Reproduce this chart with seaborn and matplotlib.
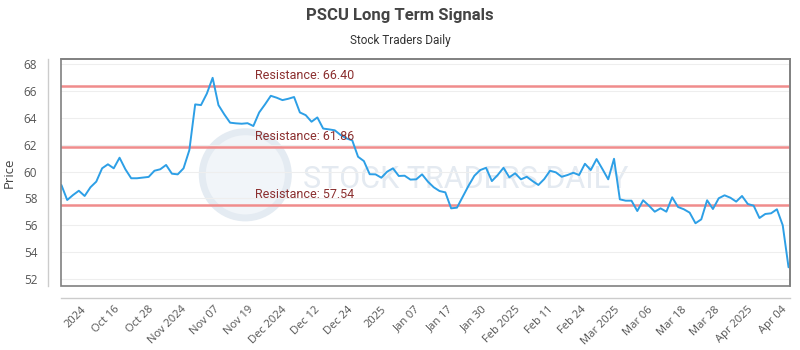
import numpy as np
import pandas as pd
import matplotlib
matplotlib.use("Agg")
import matplotlib.pyplot as plt
import seaborn as sns
from matplotlib.patches import Rectangle, Ellipse

title = "PSCU Long Term Signals"
subtitle = "Stock Traders Daily"

prices = [
    59.0, 57.88, 58.25, 58.57, 58.18, 58.83, 59.25, 60.24, 60.54, 60.24,
    61.03, 60.17, 59.5, 59.5, 59.55, 59.6, 60.06, 60.17, 60.49, 59.84,
    59.79, 60.24, 61.6, 65.0, 64.95, 65.8, 66.98, 64.95, 64.26, 63.64,
    63.59, 63.56, 63.6, 63.39, 64.4, 65.0, 65.64, 65.5, 65.32, 65.42,
    65.55, 64.4, 64.2, 63.71, 64.03, 63.2, 63.14, 63.07, 62.72, 62.47,
    62.32, 61.1, 60.78, 59.8, 59.79, 59.54, 59.99, 60.24, 59.67, 59.69,
    59.4, 59.42, 59.79, 59.25, 58.83, 58.55, 58.45, 57.26, 57.31, 58.13,
    58.95, 59.69, 60.11, 60.28, 59.29, 59.74, 60.28, 59.57, 59.87, 59.42,
    59.61, 59.29, 59.0, 59.44, 60.06, 59.94, 59.61, 59.74, 59.91, 59.74,
    60.58, 60.11, 60.93, 60.19, 59.42, 60.95, 57.93, 57.83, 57.83, 57.06,
    57.86, 57.46, 57.01, 57.26, 57.01, 58.08, 57.36, 57.19, 56.94, 56.15,
    56.44, 57.86, 57.21, 58.01, 58.23, 58.05, 57.76, 58.18, 57.58, 57.46,
    56.54, 56.84, 56.89, 57.19, 56.0, 52.87,
]

resistance_levels = [66.40, 61.86, 57.54]

tick_labels = ["2024", "Oct 16", "Oct 28", "Nov 2024", "Nov 07", "Nov 19",
               "Dec 2024", "Dec 12", "Dec 24", "2025", "Jan 07", "Jan 17",
               "Jan 30", "Feb 2025", "Feb 11", "Feb 24", "Mar 2025", "Mar 06",
               "Mar 18", "Mar 28", "Apr 2025", "Apr 04"]

yticks = [52, 54, 56, 58, 60, 62, 64, 66, 68]

df = pd.DataFrame({"idx": np.arange(len(prices)), "price": prices})

sns.set_style("white")
plt.rcParams["font.family"] = ["Open Sans", "DejaVu Sans"]

fig = plt.figure(figsize=(8, 3.5), dpi=100)
ax = fig.add_axes([0.076, 0.183, 0.9115, 0.648])

# frame and offset axis lines (set first: spine positioning resets ticks)
for s in ["top", "right"]:
    ax.spines[s].set_color("#808080")
    ax.spines[s].set_linewidth(1.2)
for s in ["left", "bottom"]:
    ax.spines[s].set_position(("outward", 9))
    ax.spines[s].set_color("#cccccc")
    ax.spines[s].set_linewidth(1.0)
ax.add_patch(Rectangle((0, 0), 1, 1, transform=ax.transAxes, fill=False,
                       edgecolor="#808080", linewidth=1.2, clip_on=False,
                       zorder=4))

# watermark
ax.add_patch(Ellipse((0.253, 0.49), 0.118, 0.38, transform=ax.transAxes,
                     facecolor="#f1f5f9", edgecolor="#e4ebf2", linewidth=5,
                     zorder=0))
ax.text(0.555, 0.47, "STOCK TRADERS DAILY", transform=ax.transAxes,
        ha="center", va="center", fontsize=22, color="#e4eaf1",
        family=["Roboto", "DejaVu Sans"], zorder=0)

for lvl in resistance_levels:
    ax.axhline(lvl, color="#f08c8c", linewidth=1.8, zorder=1)
    ax.text(33.2, lvl + 0.25, f"Resistance: {lvl:.2f}", color="#8b2f2f",
            fontsize=9, ha="left", va="bottom", zorder=3,
            family=["Roboto", "DejaVu Sans"])

sns.lineplot(data=df, x="idx", y="price", ax=ax, color="#2d9fe6",
             linewidth=1.4, zorder=2)

ax.set_xlim(-0.1, len(prices) - 1 + 0.25)
ax.set_ylim(51.48, 68.37)
ax.set_yticks(yticks)
ax.yaxis.grid(True, color="#eeeeee", linewidth=0.8)
ax.set_axisbelow(True)

tick_pos = np.linspace(3.4, 123.7, len(tick_labels))
ax.set_xticks(tick_pos)
ax.tick_params(axis="x", length=0, pad=4, labelsize=8, labelcolor="#555555")
ax.tick_params(axis="y", length=0, pad=8, labelsize=8.5, labelcolor="#555555")
ax.set_xticklabels(tick_labels, rotation=45, ha="right",
                   rotation_mode="anchor")

ax.set_xlabel("")
ax.set_ylabel("Price", fontsize=9.5, color="#444444", labelpad=6)

fig.text(0.5, 0.955, title, ha="center", va="center", fontsize=12,
         fontweight="bold", color="#444444", family=["Roboto", "DejaVu Sans"])
fig.text(0.5, 0.885, subtitle, ha="center", va="center", fontsize=8.5,
         color="#333333", family=["Roboto", "DejaVu Sans"])

fig.savefig("out.png", dpi=100, facecolor="white")
